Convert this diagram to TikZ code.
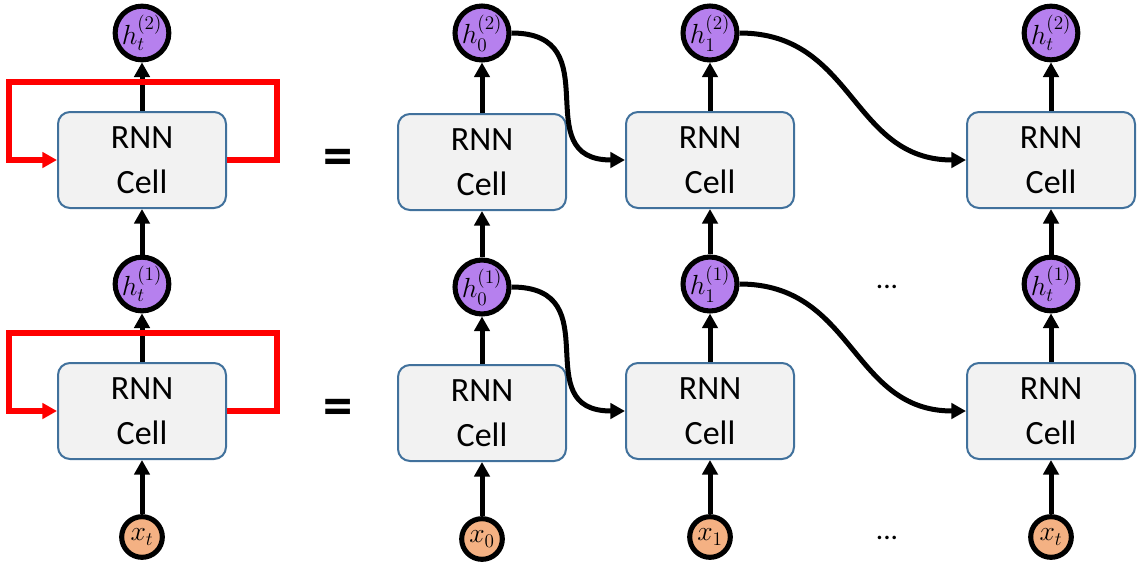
\documentclass[tikz,border=0pt]{standalone}
\usepackage{amsmath}
\usepackage{fontspec}
\usepackage{xcolor}
\usetikzlibrary{arrows.meta}
\newfontfamily\cellfont{Carlito}
\definecolor{cellfill}{HTML}{F2F2F2}
\definecolor{cellline}{HTML}{41719C}
\definecolor{hidfill}{HTML}{B680EE}
\definecolor{inpfill}{HTML}{F4B183}

\begin{document}
\begin{tikzpicture}[x=0.75pt,y=-0.75pt,
    cell/.style={draw=cellline, line width=1.5pt, fill=cellfill, rounded corners=9pt,
        minimum width=126pt, minimum height=72pt, align=center,
        font=\cellfont\fontsize{25.5}{34}\selectfont},
    hid/.style={circle, draw=black, line width=3.8pt, fill=hidfill, inner sep=0pt,
        minimum size=30.5pt, font=\fontsize{21}{22}\selectfont},
    inp/.style={hid, fill=inpfill},
    link/.style={line width=3.75pt, -{Triangle[width=11.5pt,length=11pt]}},
    recur/.style={red, line width=3.9pt, -{Triangle[width=11.5pt,length=11pt]}}]
            \useasboundingbox (0,0) rectangle (1144,571);
            % folded view
            \node[hid] (hl2) at (142,33) {$h_t^{(2)}$};
            \node[cell] (cl2) at (142,160) {RNN\\Cell};
            \node[hid] (hl1) at (142,284) {$h_t^{(1)}$};
            \node[cell] (cl1) at (142,411) {RNN\\Cell};
            \node[inp] (xl) at (142,537) {$x_t$};
            \draw[link] (cl2.north) -- (hl2.south);
            \draw[link] (hl1.north) -- (cl2.south);
            \draw[link] (cl1.north) -- (hl1.south);
            \draw[link] (xl.north) -- (cl1.south);
            \draw[recur] (cl2.east) -| (277,82) -| (9,160) -- (cl2.west);
            \draw[recur] (cl1.east) -| (277,333) -| (9,411) -- (cl1.west);
            \node[font=\cellfont\bfseries\fontsize{44}{44}\selectfont] (eq2) at (338,162) {=};
            \node[font=\cellfont\bfseries\fontsize{44}{44}\selectfont] (eq1) at (338,412) {=};
            % unrolled view
            \node[hid] (h02) at (482,33) {$h_0^{(2)}$};
            \node[cell] (c02) at (482,162) {RNN\\Cell};
            \node[hid] (h01) at (482,287) {$h_0^{(1)}$};
            \node[cell] (c01) at (482,413) {RNN\\Cell};
            \node[inp] (x0) at (482,539) {$x_0$};
            \node[hid] (h12) at (710,33) {$h_1^{(2)}$};
            \node[cell] (c12) at (710,160) {RNN\\Cell};
            \node[hid] (h11) at (710,284) {$h_1^{(1)}$};
            \node[cell] (c11) at (710,411) {RNN\\Cell};
            \node[inp] (x1) at (710,537) {$x_1$};
            \node[hid] (ht2) at (1051,33) {$h_t^{(2)}$};
            \node[cell] (ct2) at (1051,160) {RNN\\Cell};
            \node[hid] (ht1) at (1051,284) {$h_t^{(1)}$};
            \node[cell] (ct1) at (1051,411) {RNN\\Cell};
            \node[inp] (xt) at (1051,537) {$x_t$};
            \node[font=\cellfont\fontsize{22}{22}\selectfont] (dots1) at (887,287) {...};
            \node[font=\cellfont\fontsize{22}{22}\selectfont] (dots0) at (887,538) {...};
            \draw[link] (c02.north) -- (h02.south);
            \draw[link] (h01.north) -- (c02.south);
            \draw[link] (c01.north) -- (h01.south);
            \draw[link] (x0.north) -- (c01.south);
            \draw[link] (c12.north) -- (h12.south);
            \draw[link] (h11.north) -- (c12.south);
            \draw[link] (c11.north) -- (h11.south);
            \draw[link] (x1.north) -- (c11.south);
            \draw[link] (ct2.north) -- (ht2.south);
            \draw[link] (ht1.north) -- (ct2.south);
            \draw[link] (ct1.north) -- (ht1.south);
            \draw[link] (xt.north) -- (ct1.south);
            \draw[link] (h02.east) .. controls +(100,0) and +(-100,0) .. (c12.west);
            \draw[link] (h01.east) .. controls +(100,0) and +(-100,0) .. (c11.west);
            \draw[link] (h12.east) .. controls +(115,0) and +(-115,0) .. (ct2.west);
            \draw[link] (h11.east) .. controls +(115,0) and +(-115,0) .. (ct1.west);
        \end{tikzpicture}
\end{document}
